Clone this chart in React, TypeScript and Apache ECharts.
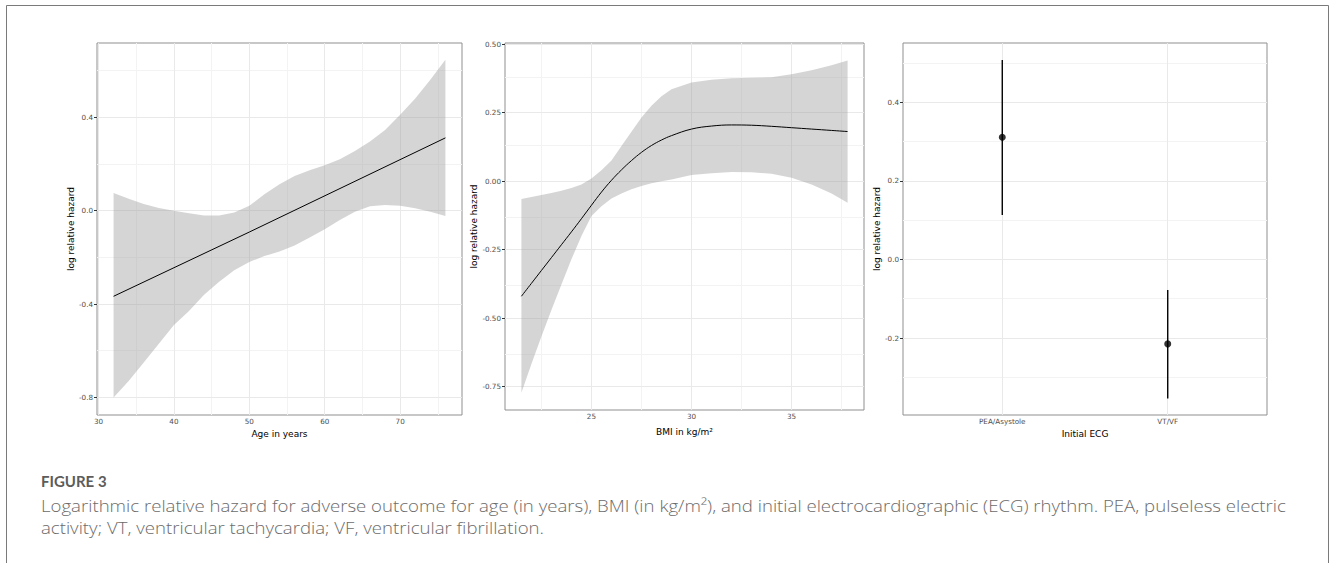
import React, { useEffect, useRef } from "react";
import * as echarts from "echarts";

// ---------- Panel 1: Age ----------
const ageX = [32, 34, 36, 38, 40, 42, 44, 46, 48, 50, 52, 54, 56, 58, 60, 62, 64, 66, 68, 70, 72, 74, 76];
const ageUpper = [0.075, 0.05, 0.028, 0.011, -0.001, -0.012, -0.021, -0.021, -0.008, 0.02, 0.07, 0.112, 0.148, 0.172, 0.194, 0.22, 0.255, 0.295, 0.345, 0.41, 0.48, 0.56, 0.645];
const ageLower = [-0.8, -0.73, -0.65, -0.57, -0.49, -0.43, -0.36, -0.305, -0.255, -0.22, -0.195, -0.175, -0.15, -0.115, -0.08, -0.04, -0.005, 0.018, 0.024, 0.02, 0.01, -0.005, -0.023];
const ageFitX = [32, 50, 76];
const ageFit = [-0.367, -0.092, 0.311];
const ageXTicks = [30, 40, 50, 60, 70];
const ageXMinor = [35, 45, 55, 65, 75];
const ageYTicks = [-0.8, -0.4, 0, 0.4];
const ageYMinor = [-0.6, -0.2, 0.2, 0.6];

// ---------- Panel 2: BMI ----------
const bmiX = [21.5, 22, 22.5, 23, 23.5, 24, 24.5, 25, 25.5, 26, 26.5, 27, 27.5, 28, 28.5, 29, 30, 31, 32, 33, 34, 35, 36, 37, 37.8];
const bmiUpper = [-0.065, -0.058, -0.051, -0.043, -0.035, -0.025, -0.012, 0.01, 0.04, 0.075, 0.128, 0.18, 0.232, 0.275, 0.31, 0.335, 0.36, 0.37, 0.375, 0.377, 0.379, 0.39, 0.405, 0.423, 0.44];
const bmiFit = [-0.42, -0.373, -0.326, -0.279, -0.232, -0.185, -0.137, -0.088, -0.04, 0.003, 0.041, 0.075, 0.105, 0.13, 0.15, 0.166, 0.19, 0.201, 0.205, 0.204, 0.2, 0.195, 0.19, 0.185, 0.181];
const bmiLower = [-0.772, -0.667, -0.567, -0.47, -0.377, -0.285, -0.2, -0.127, -0.092, -0.063, -0.045, -0.03, -0.018, -0.008, 0.0, 0.006, 0.022, 0.029, 0.033, 0.032, 0.027, 0.012, -0.012, -0.045, -0.079];
const bmiXTicks = [25, 30, 35];
const bmiXMinor = [22.5, 27.5, 32.5, 37.5];
const bmiYTicks = [-0.75, -0.5, -0.25, 0, 0.25, 0.5];
const bmiYMinor = [-0.625, -0.375, -0.125, 0.125, 0.375];

// ---------- Panel 3: Initial ECG ----------
const ecgCategories = ["PEA/Asystole", "VT/VF"];
const ecgEstimate = [0.311, -0.215];
const ecgLower = [0.113, -0.354];
const ecgUpper = [0.508, -0.078];
const ecgYTicks = [-0.2, 0, 0.2, 0.4];
const ecgYMinor = [-0.3, -0.1, 0.1, 0.3, 0.5];

const captionTitle = "FIGURE 3";
const captionLine1 =
  "Logarithmic relative hazard for adverse outcome for age (in years), BMI (in kg/m\u00B2), and initial electrocardiographic (ECG) rhythm. PEA, pulseless electric";
const captionLine2 = "activity; VT, ventricular tachycardia; VF, ventricular fibrillation.";

const FONT = "DejaVu Sans";
const tickLabel = { fontFamily: FONT, fontSize: 7.2, color: "#4d4d4d" };
const titleStyle = { fontFamily: FONT, fontSize: 9, color: "#000" };
const MAJOR = { color: "#e9e9e9", width: 1, type: "solid" };
const MINOR = { color: "#f3f3f3", width: 1, type: "solid" };
const BAND = "rgba(150,150,150,0.4)";
const CAPTION_FONT = "300 16.8px 'Open Sans'";

function makeAxis(opts: any) {
  return {
    type: "value",
    gridIndex: opts.grid,
    min: opts.min,
    max: opts.max,
    axisLine: { show: false },
    axisTick: { show: true, length: 3, customValues: opts.ticks, lineStyle: { color: "#333", width: 1 } },
    axisLabel: { show: true, customValues: opts.ticks, margin: opts.margin, formatter: opts.fmt, ...tickLabel },
    splitLine: { show: false },
    minorTick: { show: false },
    name: opts.name,
    nameLocation: "middle",
    nameGap: opts.nameGap,
    nameTextStyle: titleStyle,
  };
}

function gridLines(idx: number, xMaj: number[], xMin: number[], yMaj: number[], yMin: number[]) {
  const data: any[] = [];
  xMin.forEach((v) => data.push({ xAxis: v, lineStyle: MINOR }));
  yMin.forEach((v) => data.push({ yAxis: v, lineStyle: MINOR }));
  xMaj.forEach((v) => data.push({ xAxis: v, lineStyle: MAJOR }));
  yMaj.forEach((v) => data.push({ yAxis: v, lineStyle: MAJOR }));
  return {
    type: "line",
    xAxisIndex: idx,
    yAxisIndex: idx,
    data: [],
    silent: true,
    z: 1,
    markLine: {
      silent: true,
      z: 1,
      symbol: ["none", "none"],
      label: { show: false },
      emphasis: { disabled: true },
      animation: false,
      data,
    },
  };
}

function band(idx: number, xs: number[], lo: number[], hi: number[]) {
  return {
    type: "custom",
    xAxisIndex: idx,
    yAxisIndex: idx,
    silent: true,
    z: 3,
    encode: { x: 0, y: [1, 2] },
    data: xs.map((x, i) => [x, lo[i], hi[i]]),
    renderItem: (params: any, api: any) => {
      if (params.dataIndex !== 0) return { type: "group", children: [] };
      const top = xs.map((x, i) => api.coord([x, hi[i]]));
      const bottom = xs.map((x, i) => api.coord([x, lo[i]])).reverse();
      return {
        type: "polygon",
        shape: { points: top.concat(bottom) },
        style: { fill: BAND, stroke: "none" },
      };
    },
  };
}

function measure(text: string, font: string) {
  try {
    const ctx = document.createElement("canvas").getContext("2d");
    if (ctx) {
      ctx.font = font;
      return ctx.measureText(text).width;
    }
  } catch (e) {
    /* ignore */
  }
  return text.length * 7.4;
}

export default function App() {
  const ref = useRef<HTMLDivElement>(null);

  useEffect(() => {
    if (!ref.current) return;
    const chart = echarts.init(ref.current, null, { renderer: "svg" });

    // the caption face is wider than any installed font: stretch to the measured line width
    const captionScale = 1244 / measure(captionLine1, CAPTION_FONT);
    const captionStyle = { font: CAPTION_FONT, fill: "#6b6b6b", textAlign: "left", verticalAlign: "middle", textVerticalAlign: "middle" };

    const option: any = {
      animation: false,
      backgroundColor: "#fff",
      grid: [
        { left: 97, top: 43, width: 365, height: 372, show: true, borderColor: "#8f8f8f", borderWidth: 1, backgroundColor: "transparent" },
        { left: 505, top: 43, width: 359, height: 367, show: true, borderColor: "#8f8f8f", borderWidth: 1, backgroundColor: "transparent" },
        { left: 903, top: 43, width: 364, height: 372, show: true, borderColor: "#8f8f8f", borderWidth: 1, backgroundColor: "transparent" },
      ],
      xAxis: [
        makeAxis({ grid: 0, min: 29.8, max: 78.2, ticks: ageXTicks, margin: 3, fmt: (v: number) => String(v), name: "Age in years", nameGap: 13 }),
        makeAxis({ grid: 1, min: 20.68, max: 38.62, ticks: bmiXTicks, margin: 3, fmt: (v: number) => String(v), name: "BMI in kg/m\u00B2", nameGap: 17 }),
        makeAxis({ grid: 2, min: 0.4, max: 2.6, ticks: [1, 2], margin: 3, fmt: (v: number) => ecgCategories[Math.round(v) - 1], name: "Initial ECG", nameGap: 13 }),
      ],
      yAxis: [
        makeAxis({ grid: 0, min: -0.875, max: 0.717, ticks: ageYTicks, margin: 4, fmt: (v: number) => v.toFixed(1), name: "log relative hazard", nameGap: 21 }),
        makeAxis({ grid: 1, min: -0.835, max: 0.504, ticks: bmiYTicks, margin: 4, fmt: (v: number) => v.toFixed(2), name: "log relative hazard", nameGap: 26 }),
        makeAxis({ grid: 2, min: -0.396, max: 0.551, ticks: ecgYTicks, margin: 4, fmt: (v: number) => v.toFixed(1), name: "log relative hazard", nameGap: 21 }),
      ],
      series: [
        gridLines(0, ageXTicks, ageXMinor, ageYTicks, ageYMinor),
        band(0, ageX, ageLower, ageUpper),
        {
          type: "line",
          xAxisIndex: 0,
          yAxisIndex: 0,
          symbol: "none",
          silent: true,
          z: 4,
          lineStyle: { color: "#000", width: 1 },
          data: ageFitX.map((x, i) => [x, ageFit[i]]),
        },
        gridLines(1, bmiXTicks, bmiXMinor, bmiYTicks, bmiYMinor),
        band(1, bmiX, bmiLower, bmiUpper),
        {
          type: "line",
          xAxisIndex: 1,
          yAxisIndex: 1,
          symbol: "none",
          smooth: 0.4,
          silent: true,
          z: 4,
          lineStyle: { color: "#000", width: 1 },
          data: bmiX.map((x, i) => [x, bmiFit[i]]),
        },
        gridLines(2, [1, 2], [], ecgYTicks, ecgYMinor),
        {
          type: "custom",
          xAxisIndex: 2,
          yAxisIndex: 2,
          silent: true,
          z: 4,
          encode: { x: 0, y: [1, 2] },
          data: ecgCategories.map((_, i) => [i + 1, ecgLower[i], ecgUpper[i]]),
          renderItem: (params: any, api: any) => {
            const x = api.value(0);
            const p1 = api.coord([x, api.value(1)]);
            const p2 = api.coord([x, api.value(2)]);
            return {
              type: "line",
              shape: { x1: p1[0], y1: p1[1], x2: p2[0], y2: p2[1] },
              style: { stroke: "#000", lineWidth: 1.4 },
            };
          },
        },
        {
          type: "scatter",
          xAxisIndex: 2,
          yAxisIndex: 2,
          silent: true,
          z: 5,
          symbol: "circle",
          symbolSize: 7,
          itemStyle: { color: "#000" },
          data: ecgCategories.map((_, i) => [i + 1, ecgEstimate[i]]),
        },
      ],
      graphic: [
        {
          type: "polyline",
          silent: true,
          shape: { points: [[6.5, 563], [6.5, 5.5], [1328.5, 5.5], [1328.5, 563]] },
          style: { stroke: "#7a7a7a", lineWidth: 1, fill: "none" },
        },
        {
          type: "text",
          x: 41,
          y: 481,
          silent: true,
          style: { text: captionTitle, font: "bold 15px Lato", fill: "#5c5c5c", textAlign: "left", verticalAlign: "middle", textVerticalAlign: "middle" },
        },
        {
          type: "text",
          x: 41,
          y: 505,
          scaleX: captionScale,
          silent: true,
          style: { text: captionLine1, ...captionStyle },
        },
        {
          type: "text",
          x: 41,
          y: 527,
          scaleX: captionScale,
          silent: true,
          style: { text: captionLine2, ...captionStyle },
        },
      ],
    };

    chart.setOption(option);
    return () => chart.dispose();
  }, []);

  return (
    <div
      ref={ref}
      style={{ position: "fixed", left: 0, top: 0, width: 1330, height: 563, background: "#fff" }}
    />
  );
}
